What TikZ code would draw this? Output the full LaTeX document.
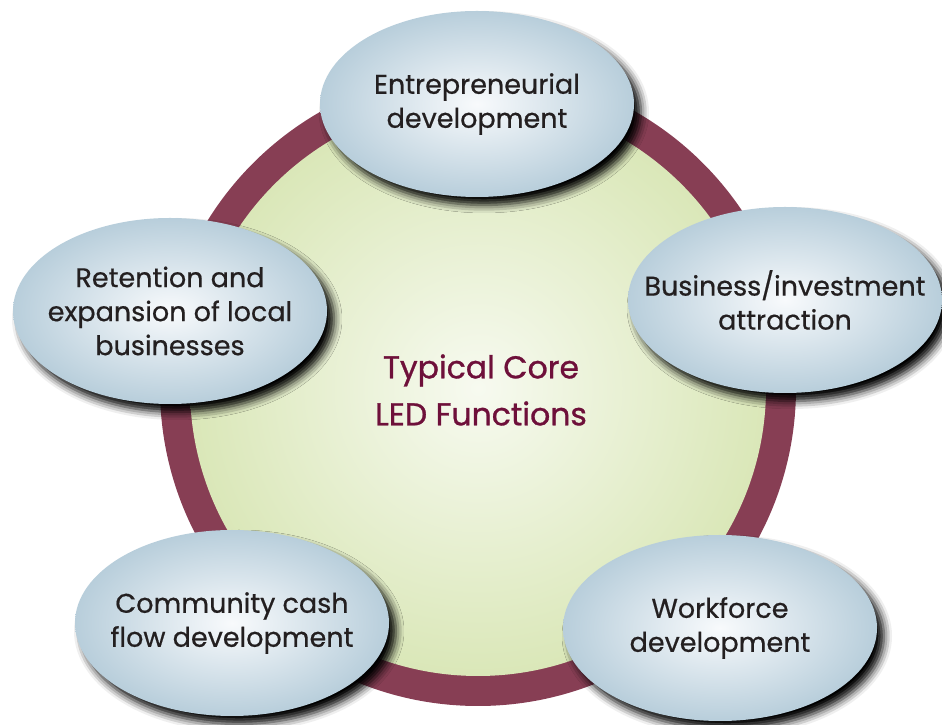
\documentclass[tikz,border=0pt]{standalone}
\usepackage{fontspec}
\setmainfont{Poppins}
\newfontfamily\labelfont{Poppins}[FakeBold=0.6]
\newfontfamily\titlefont{Poppins}[FakeBold=0.9]
\usetikzlibrary{shapes.geometric,shadows.blur}
\definecolor{ringc}{RGB}{135,62,84}
\definecolor{greenout}{RGB}{218,231,184}
\definecolor{greenin}{RGB}{247,250,240}
\definecolor{blueout}{RGB}{184,206,219}
\definecolor{bluein}{RGB}{248,250,252}
\definecolor{txt}{RGB}{35,31,32}
\definecolor{titlec}{RGB}{110,16,58}
\begin{document}
\begin{tikzpicture}[x=1pt,y=1pt,
  bubble/.style={ellipse, minimum width=314pt, minimum height=186pt, inner sep=0pt,
    inner color=bluein, outer color=blueout,
    blur shadow={shadow xshift=7pt, shadow yshift=-8pt, shadow blur radius=8pt,
      shadow opacity=100}},
  bubbletext/.style={align=center, text=txt, inner sep=0pt,
    font=\labelfont\fontsize{27}{34}\selectfont},
  titletext/.style={text=titlec, align=center, font=\titlefont\fontsize{31.5}{47}\selectfont}]
\useasboundingbox (0,0) rectangle (942,725);
\fill[ringc] (478,337) circle[radius=318pt];
\shade[inner color=greenin, outer color=greenout] (478,337) circle[radius=288pt];
\node[titletext] (title) at (481,335) {Typical Core\\LED Functions};
\node[bubble] (entre) at (477,621) {};
\node[bubbletext] (entre-t) at (entre.center) {Entrepreneurial\\development};
\node[bubble] (business) at (785,425) {};
\node[bubbletext] (business-t) at (business.center) {Business/investment\\attraction};
\node[bubble] (retention) at (170,414) {};
\node[bubbletext] (retention-t) at (retention.center) {Retention and\\expansion of local\\businesses};
\node[bubble] (community) at (232,102) {};
\node[bubbletext] (community-t) at (community.center) {Community cash\\flow development};
\node[bubble] (workforce) at (720,97) {};
\node[bubbletext] (workforce-t) at (workforce.center) {Workforce\\development};
\end{tikzpicture}
\end{document}
